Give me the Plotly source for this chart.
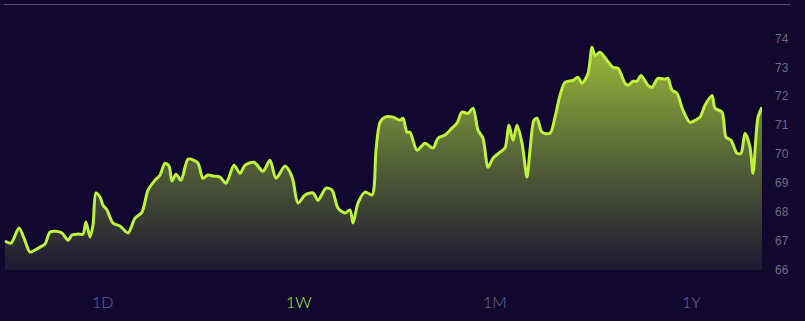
import plotly.graph_objects as go

# time positions (arbitrary units) and price values
t = [5, 11, 19, 24, 30, 35, 40, 45, 50, 56, 62, 68, 72, 78, 83, 86, 90, 93, 96, 100,
     103, 107, 113, 120, 128, 135, 142, 148, 155, 160, 165, 169, 172, 176, 181, 188, 194, 198, 203, 208,
     214, 220, 226, 234, 240, 245, 254, 263, 270, 276, 285, 290, 293, 298, 305, 313, 318, 326, 332, 338,
     345, 350, 353, 358, 365, 372, 376, 380, 385, 393, 400, 403, 407, 410, 417, 425, 433, 438, 445, 452,
     457, 462, 468, 473, 478, 483, 488, 493, 500, 505, 509, 513, 517, 522, 527, 530, 534, 537, 542, 550,
     555, 560, 565, 573, 578, 582, 588, 592, 595, 600, 607, 613, 618, 625, 628, 633, 637, 641, 648, 652,
     658, 665, 668, 672, 677, 683, 690, 695, 700, 705, 712, 715, 722, 726, 731, 737, 741, 745, 750, 753,
     758, 762]
price = [67.00, 66.93, 67.45, 67.10, 66.62, 66.69, 66.79, 66.90, 67.31, 67.34, 67.28, 67.03, 67.21, 67.24, 67.24, 67.66, 67.14, 67.55, 68.66, 68.52,
         68.24, 68.07, 67.62, 67.52, 67.28, 67.79, 68.00, 68.76, 69.10, 69.28, 69.69, 69.59, 69.07, 69.31, 69.10, 69.83, 69.79, 69.69, 69.17, 69.28,
         69.24, 69.21, 69.00, 69.62, 69.34, 69.62, 69.72, 69.41, 69.79, 69.17, 69.59, 69.38, 69.10, 68.31, 68.59, 68.66, 68.41, 68.83, 68.76, 68.14,
         67.97, 68.07, 67.62, 68.31, 68.69, 68.59, 70.14, 71.10, 71.28, 71.28, 71.17, 71.24, 70.76, 70.76, 70.14, 70.38, 70.21, 70.55, 70.66, 70.90,
         71.07, 71.45, 71.41, 71.59, 70.83, 70.55, 69.55, 69.86, 70.07, 70.21, 71.00, 70.48, 71.00, 70.38, 69.21, 70.14, 71.17, 71.24, 70.76, 70.72,
         71.28, 72.03, 72.48, 72.55, 72.66, 72.45, 72.79, 73.69, 73.41, 73.52, 73.24, 73.00, 72.97, 72.45, 72.38, 72.52, 72.52, 72.72, 72.38, 72.31,
         72.62, 72.59, 72.62, 72.21, 72.10, 71.52, 71.10, 71.17, 71.28, 71.69, 72.03, 71.59, 71.45, 70.59, 70.48, 70.03, 70.03, 70.72, 70.24, 69.34,
         71.28, 71.62]

y_ticks = [66, 67, 68, 69, 70, 71, 72, 73, 74]
periods = ["1D", "1W", "1M", "1Y"]
period_colors = ["#5d64a0", "#b6f532", "#736c9a", "#736c9a"]
period_pos = [0.134, 0.392, 0.650, 0.908]

BG = "#12082f"
LINE = "#bff23a"

fig = go.Figure()
fig.add_trace(go.Scatter(
    x=t, y=price, mode="lines",
    line=dict(color=LINE, width=3, shape="spline", smoothing=0.8),
    fill="tozeroy",
    fillgradient=dict(type="vertical", start=66, stop=73.7,
                      colorscale=[[0, "rgb(30,24,50)"], [0.5, "rgb(85,100,55)"], [1, "rgb(155,185,58)"]]),
    hoverinfo="skip", showlegend=False,
))

for lab, col, px in zip(periods, period_colors, period_pos):
    fig.add_annotation(x=px, y=-0.126, xref="paper", yref="paper", text=lab,
                       showarrow=False, font=dict(family="Lato", size=16, color=col, weight=300),
                       xanchor="center", yanchor="middle")

fig.add_shape(type="line", xref="paper", yref="paper", x0=0.005, x1=1.037, y0=1.066, y1=1.066,
              line=dict(color="#5f5478", width=1))

fig.update_layout(
    width=805, height=321,
    margin=dict(l=0, r=43, t=21, b=51),
    paper_bgcolor=BG, plot_bgcolor=BG,
    xaxis=dict(range=[0, 762], showgrid=False, zeroline=False, showticklabels=False, showline=False),
    yaxis=dict(range=[66, 74.6], side="right", tickvals=y_ticks, showgrid=False, zeroline=False,
               showline=False, ticks="", ticklabelstandoff=12,
               tickfont=dict(family="Liberation Sans", size=12, color="#6f6b80")),
)

fig.write_html("out.html")
